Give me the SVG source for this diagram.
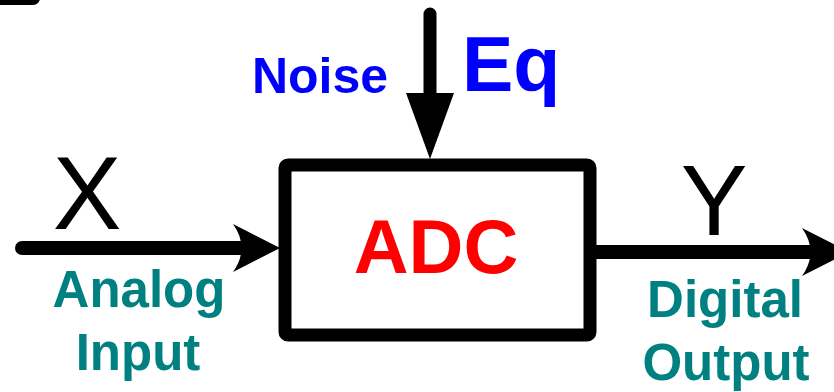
<svg xmlns="http://www.w3.org/2000/svg" width="834" height="392" viewBox="0 0 834 392">
<style>
.ln{stroke:#000;stroke-width:14;fill:none;stroke-linecap:round}
.hd{fill:#000;stroke:none}
.b{font-family:"Liberation Sans",Arial,sans-serif;font-weight:bold}
.r{font-family:"Liberation Sans",Arial,sans-serif}
.teal{fill:#008080;font-size:51px}
</style>
<rect width="834" height="392" fill="#fff"/>
<g id="corner-mark"><line class="ln" x1="-10" y1="-2" x2="33" y2="-2"/></g>
<g id="connectors">
  <line class="ln" x1="22" y1="248" x2="250" y2="248"/>
  <path class="hd" d="M280,248 L233,224 Q250,248 233,272 Z"/>
  <line class="ln" x1="596" y1="252" x2="815" y2="252" style="stroke-linecap:butt"/>
  <path class="hd" d="M849,252 L802,228 Q819,252 802,276 Z"/>
  <line class="ln" x1="430" y1="14" x2="430" y2="100" style="stroke-width:13"/>
  <path class="hd" d="M406,93 L454,93 L430,159 Z"/>
</g>
<g id="adc">
  <rect x="285" y="165" width="305" height="170" rx="3" fill="#fff" stroke="#000" stroke-width="13"/>
  <text class="b" x="436" y="273" font-size="76" fill="#ff0000" text-anchor="middle">ADC</text>
</g>
<g id="noise-label">
  <text class="b" x="320" y="93" font-size="50" fill="#0000ff" text-anchor="middle">Noise</text>
  <text class="b" x="462" y="91" font-size="77" fill="#0000ff">Eq</text>
</g>
<g id="input-label">
  <text class="r" x="87" y="229" font-size="103" fill="#000" text-anchor="middle">X</text>
  <text class="b teal" x="139" y="307" text-anchor="middle">Analog</text>
  <text class="b teal" x="138" y="370" text-anchor="middle">Input</text>
</g>
<g id="output-label">
  <text class="r" x="714" y="235" font-size="100" fill="#000" text-anchor="middle">Y</text>
  <text class="b teal" x="725" y="317" text-anchor="middle">Digital</text>
  <text class="b teal" x="726" y="380" text-anchor="middle">Output</text>
</g>
</svg>
